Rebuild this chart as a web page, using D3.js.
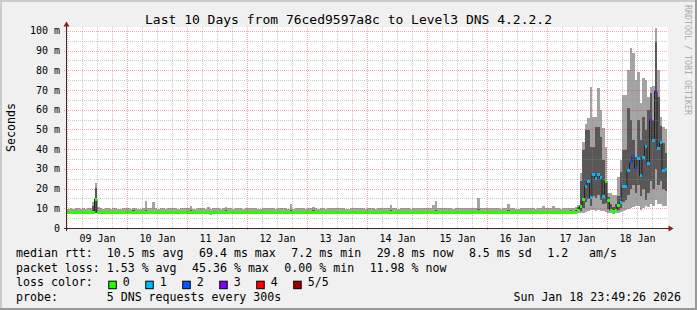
<!DOCTYPE html>
<html>
<head>
<meta charset="utf-8">
<script src="https://cdn.jsdelivr.net/npm/d3@7"></script>
<style>
html, body { margin: 0; padding: 0; background: #f0f0f0; }
svg { display: block; }
text { font-family: "DejaVu Sans Mono", monospace; fill: #000; }
</style>
</head>
<body>
<svg id="chart" width="697" height="310"></svg>
<script>

// hourly samples, 10 days (one row per day), 5 pings sorted: min, 2nd, median, 4th, max (ms)
var pingMin = [
  7.1,7.2,7.2,7.0,7.1,7.2,7.1,7.0,7.1,7.3,7.3,7.5,7.1,7.0,7.0,7.1,7.2,7.2,7.1,7.0,6.9,7.0,7.1,7.1,
  7.0,7.1,7.2,7.1,7.0,6.9,7.1,7.2,7.1,7.0,7.2,7.1,7.1,7.2,7.0,6.9,7.0,7.1,7.2,7.1,7.0,7.1,7.2,7.0,
  7.1,7.2,7.0,6.9,7.1,7.2,7.1,7.0,7.1,6.6,7.1,7.2,7.0,7.1,7.0,7.2,7.1,7.0,6.9,7.1,7.2,7.1,7.0,7.1,
  7.0,7.1,7.2,7.1,6.9,7.0,7.1,7.2,7.1,7.0,7.1,7.0,7.1,7.2,7.2,7.1,7.0,7.2,6.9,6.9,7.0,7.1,7.1,7.0,
  7.1,7.2,7.2,7.1,7.0,7.1,7.0,6.9,7.1,7.2,7.1,7.0,7.1,7.1,7.2,7.0,6.9,7.0,7.1,7.2,7.1,7.0,7.1,7.0,
  7.0,7.1,7.2,7.0,7.1,7.0,7.1,7.2,7.1,7.2,7.1,7.0,7.0,7.1,7.2,7.1,7.0,7.0,7.1,7.1,7.2,7.1,7.0,7.1,
  7.1,7.0,7.1,7.2,7.1,7.0,7.1,7.2,7.1,7.0,6.9,7.0,7.1,7.2,7.1,7.0,7.1,7.1,7.2,7.0,7.2,7.1,7.0,7.1,
  7.0,7.1,7.2,7.1,7.0,7.0,7.1,7.2,7.2,7.1,7.0,6.9,7.0,7.1,7.2,7.1,7.0,7.1,7.1,7.0,7.1,7.2,7.1,7.0,
  7.1,7.0,7.1,7.2,7.1,7.0,7.1,7.2,7.2,7.3,7.2,7.3,7.5,7.6,7.8,8.2,8.5,9.0,9.2,8.8,9.0,8.8,8.5,8.2,
  7.8,7.5,7.2,7.4,7.8,8.0,8.5,9.0,9.5,10.0,10.5,11.0,11.0,9.1,10.0,11.0,10.5,12.0,11.0,14.0,12.0,12.0,11.0,11.0
]
var pingLo = [
  7.5,7.5,7.6,7.4,7.5,7.6,7.5,7.4,7.5,7.7,7.6,7.6,7.5,7.4,7.4,7.5,7.6,7.6,7.5,7.4,7.3,7.4,7.5,7.5,
  7.4,7.5,7.6,7.5,7.4,7.3,7.5,7.6,7.5,7.4,7.6,7.5,7.5,7.6,7.4,7.3,7.4,7.5,7.6,7.5,7.4,7.5,7.6,7.4,
  7.5,7.6,7.4,7.3,7.5,7.6,7.5,7.4,7.5,6.9,7.5,7.6,7.4,7.5,7.4,7.6,7.5,7.4,7.3,7.5,7.6,7.5,7.4,7.5,
  7.4,7.5,7.6,7.5,7.3,7.4,7.5,7.6,7.5,7.4,7.5,7.4,7.5,7.6,7.6,7.5,7.4,7.6,7.3,7.3,7.4,7.5,7.5,7.4,
  7.5,7.6,7.6,7.5,7.4,7.5,7.4,7.3,7.5,7.6,7.5,7.4,7.5,7.5,7.6,7.4,7.3,7.4,7.5,7.6,7.5,7.4,7.5,7.4,
  7.4,7.5,7.6,7.4,7.5,7.4,7.5,7.6,7.5,7.6,7.5,7.4,7.4,7.5,7.6,7.5,7.4,7.4,7.5,7.5,7.6,7.5,7.4,7.5,
  7.5,7.4,7.5,7.6,7.5,7.4,7.5,7.6,7.5,7.4,7.3,7.4,7.5,7.6,7.5,7.4,7.5,7.5,7.6,7.4,7.6,7.5,7.4,7.5,
  7.4,7.5,7.6,7.5,7.4,7.4,7.5,7.6,7.6,7.5,7.4,7.3,7.4,7.5,7.6,7.5,7.4,7.5,7.5,7.4,7.5,7.6,7.5,7.4,
  7.5,7.4,7.5,7.6,7.5,7.4,7.5,7.6,7.6,7.7,7.6,7.7,8.2,8.4,10.0,13.0,14.5,11.0,16.0,15.0,17.0,14.0,12.0,12.5,
  9.5,8.4,7.8,8.1,9.2,10.0,13.0,14.0,17.0,20.0,22.0,17.7,22.0,16.0,20.0,14.2,18.0,24.0,20.0,30.0,22.0,24.0,20.0,19.0
]
var pingMed = [
  7.9,7.9,8.0,7.8,7.9,8.0,7.9,7.8,7.9,8.2,8.0,14.7,7.9,7.8,7.8,7.9,8.0,8.0,7.9,7.8,7.7,7.8,7.9,7.9,
  7.8,7.9,8.1,7.9,7.8,7.7,7.9,8.0,7.9,7.8,8.0,7.9,7.9,8.1,7.8,7.7,7.8,7.9,8.0,7.9,7.8,7.9,8.0,7.8,
  7.9,8.0,7.8,7.7,7.9,8.0,7.9,7.8,7.9,7.2,7.9,8.0,7.8,7.9,7.8,8.1,7.9,7.8,7.7,7.9,8.0,7.9,7.8,7.9,
  7.8,7.9,8.0,7.9,7.7,7.8,7.9,8.0,7.9,7.8,7.9,7.8,7.9,8.0,8.1,7.9,7.8,8.0,7.7,7.7,7.8,7.9,7.9,7.8,
  7.9,8.0,8.1,7.9,7.8,7.9,7.8,7.7,7.9,8.0,7.9,7.8,7.9,7.9,8.0,7.8,7.7,7.8,7.9,8.0,7.9,7.8,7.9,7.8,
  7.8,7.9,8.0,7.8,7.9,7.8,7.9,8.0,7.9,8.1,7.9,7.8,7.8,7.9,8.0,7.9,7.8,7.8,7.9,7.9,8.0,7.9,7.8,7.9,
  7.9,7.8,7.9,8.1,7.9,7.8,7.9,8.0,7.9,7.8,7.7,7.8,7.9,8.0,7.9,7.8,7.9,7.9,8.0,7.8,8.2,7.9,7.8,7.9,
  7.8,7.9,8.0,7.9,7.8,7.8,7.9,8.0,8.1,7.9,7.8,7.7,7.8,7.9,8.0,7.9,7.8,7.9,7.9,7.8,7.9,8.0,7.9,7.8,
  7.9,7.8,7.9,8.0,7.9,7.8,7.9,8.0,8.0,8.1,8.0,8.1,9.1,11.0,14.7,21.3,23.8,15.4,26.9,24.9,27.4,25.5,15.9,23.5,
  13.9,9.1,8.3,8.8,11.3,12.9,21.0,21.0,29.4,33.1,36.5,30.1,35.2,26.5,35.7,41.6,32.5,54.8,44.3,69.4,40.3,43.3,29.4,29.8
]
var pingHi = [
  8.4,8.5,8.6,8.3,8.5,8.5,8.4,8.3,8.5,8.8,11.3,20.1,8.6,8.3,8.4,8.5,8.6,8.5,8.4,8.4,8.2,8.3,8.5,8.4,
  8.3,8.5,8.9,8.4,8.3,8.2,8.5,9.0,8.4,8.3,8.8,8.5,8.4,8.7,8.3,8.2,8.4,8.5,8.6,8.4,8.3,8.5,8.6,8.3,
  8.5,8.9,8.3,8.2,8.4,8.6,8.5,8.3,8.7,8.0,8.4,8.6,8.3,8.5,8.3,8.9,8.4,8.3,8.2,8.5,8.6,8.5,8.3,8.4,
  8.3,8.5,8.6,8.4,8.2,8.3,8.5,8.6,8.4,8.3,8.5,8.3,8.4,8.6,8.7,8.5,8.3,9.2,8.2,8.3,8.4,8.5,8.5,8.3,
  8.5,8.6,8.9,8.4,8.3,8.5,8.4,8.2,8.5,8.6,8.5,8.3,8.4,8.5,8.6,8.3,8.2,8.4,8.5,8.6,8.5,8.3,8.5,8.3,
  8.3,8.5,8.6,8.3,8.5,8.4,8.5,8.6,8.5,9.0,8.5,8.3,8.3,8.5,8.6,8.5,8.3,8.3,8.5,8.4,8.6,8.5,8.3,8.5,
  8.5,8.3,8.8,9.2,8.5,8.3,8.5,8.6,8.5,8.3,8.2,8.4,8.5,8.6,8.5,8.3,8.5,8.5,8.6,8.3,9.4,8.5,8.3,8.5,
  8.3,8.5,8.6,8.5,8.3,8.3,8.5,8.6,9.0,8.5,8.3,8.2,8.3,8.5,8.6,8.5,8.3,8.5,8.5,8.3,8.5,8.6,8.8,8.3,
  8.5,8.3,8.7,8.6,8.5,8.3,8.5,8.6,8.6,8.9,8.5,9.0,10.6,24.0,39.6,49.7,49.7,41.3,41.3,51.4,51.4,46.3,34.5,24.4,
  15.9,12.0,10.5,12.0,16.0,28.6,39.6,39.6,61.0,54.8,44.7,36.2,54.8,44.7,56.5,49.7,60.0,68.4,55.0,94.6,66.7,52.0,43.0,38.0
]
var pingMax = [
  9.8,10.1,9.6,10.0,10.2,9.5,9.9,9.7,10.0,10.4,13.0,22.7,10.6,10.2,9.8,10.0,10.1,9.7,9.9,10.3,9.8,9.6,10.0,10.2,
  10.0,9.7,10.3,10.1,9.8,9.6,9.9,13.9,10.2,10.0,13.4,10.1,9.8,10.2,9.9,9.7,10.0,10.1,10.3,9.9,9.8,10.0,10.2,9.9,
  10.1,11.3,9.8,9.7,10.0,10.2,9.9,9.8,10.8,9.6,10.0,10.2,9.9,9.8,10.0,10.8,10.1,9.9,9.7,10.0,10.2,10.1,9.8,10.0,
  9.9,10.1,10.3,10.0,9.7,9.8,10.1,10.4,10.0,9.9,10.1,9.8,10.0,10.2,10.3,9.9,9.8,12.2,9.7,9.9,10.0,10.2,10.1,9.8,
  10.1,10.2,10.8,10.0,9.8,10.1,9.9,9.7,10.0,10.2,10.1,9.9,10.0,10.1,10.3,9.8,9.7,9.9,10.2,10.4,10.0,9.9,10.1,9.8,
  9.9,10.0,10.2,9.8,10.1,9.9,10.0,10.2,10.1,11.7,10.0,9.9,9.8,10.1,10.3,10.0,9.9,9.8,10.1,10.0,10.3,10.1,9.9,10.0,
  10.1,9.9,11.6,13.9,10.2,9.9,10.0,10.3,10.1,9.9,9.8,10.0,10.1,10.4,10.0,9.9,10.1,10.2,10.4,9.9,15.1,10.2,10.0,10.1,
  9.9,10.0,10.2,10.1,9.9,9.8,10.1,10.3,12.2,10.0,9.9,9.7,9.8,10.0,10.2,10.1,9.9,10.1,10.2,9.8,10.0,10.3,11.3,9.9,
  10.1,9.9,11.0,10.2,10.0,9.8,10.0,10.2,10.2,10.3,10.0,10.6,11.7,28.0,43.8,53.0,56.0,71.7,56.5,56.5,71.0,60.0,50.8,41.0,
  17.7,17.7,17.0,17.0,26.0,34.5,67.5,67.5,80.0,91.2,88.7,75.0,79.4,63.5,76.1,75.0,66.7,71.7,72.0,101.4,80.0,56.5,51.4,50.0
]
// lost pings out of 5 for each hour
var pingLoss = [
  0,0,0,0,0,0,0,0,0,0,0,0,0,0,0,0,0,0,0,0,0,0,0,0,
  0,0,0,0,0,0,0,0,0,0,0,0,0,0,0,0,0,0,0,0,0,0,0,0,
  0,0,0,0,0,0,0,0,0,0,0,0,0,0,0,0,0,0,0,0,0,0,0,0,
  0,0,0,0,0,0,0,0,0,0,0,0,0,0,0,0,0,0,0,0,0,0,0,0,
  0,0,0,0,0,0,0,0,0,0,0,0,0,0,0,0,0,0,0,0,0,0,0,0,
  0,0,0,0,0,0,0,0,0,0,0,0,0,0,0,0,0,0,0,0,0,0,0,0,
  0,0,0,0,0,0,0,0,0,0,0,0,0,0,0,0,0,0,0,0,0,0,0,0,
  0,0,0,0,0,0,0,0,0,0,0,0,0,0,0,0,0,0,0,0,0,0,0,0,
  0,0,0,0,0,0,0,0,0,0,0,0,0,0,0,1,1,1,1,1,1,1,1,0,
  0,0,0,0,0,1,1,1,1,2,2,2,1,1,1,1,1,3,1,3,1,1,1,1
]

var yTicks = [0, 10, 20, 30, 40, 50, 60, 70, 80, 90, 100]
var lossLabels = ['0', '1', '2', '3', '4', '5/5']
var lossColors = ['#26ff00', '#00b8ff', '#0059ff', '#7e00ff', '#ff0000', '#a10000']

var titleText = 'Last 10 Days from 76ced9597a8c to Level3 DNS 4.2.2.2'
var rttLegend = ['median rtt:  10.5 ms avg', '69.4 ms max', '7.2 ms min', '29.8 ms now', '8.5 ms sd', '1.2   am/s']
var lossLegend = ['packet loss: 1.53 % avg', '45.36 % max', '0.00 % min', '11.98 % now']
var probeText = 'probe:       5 DNS requests every 300s'
var stampText = 'Sun Jan 18 23:49:26 2026'

var W = 697, H = 310
var x0 = 67, x1 = 667, yTop = 27, yBot = 228
var tEnd = new Date(Date.UTC(2026, 0, 18, 23, 49, 26))
var tStart = new Date(tEnd.getTime() - 10 * 86400000)
var step = 3600000

var svg = d3.select('#chart')

// frame
svg.append('rect').attr('width', W).attr('height', H).attr('fill', '#f0f0f0')
svg.append('rect').attr('x', 0).attr('y', 0).attr('width', W).attr('height', 2).attr('fill', '#cbcbcb')
svg.append('rect').attr('x', 0).attr('y', 0).attr('width', 2).attr('height', H).attr('fill', '#cbcbcb')
svg.append('rect').attr('x', 0).attr('y', H - 2).attr('width', W).attr('height', 2).attr('fill', '#999')
svg.append('rect').attr('x', W - 2).attr('y', 0).attr('width', 2).attr('height', H).attr('fill', '#999')

var x = d3.scaleTime().domain([tStart, tEnd]).range([x0, x1])
var y = d3.scaleLinear().domain([0, 102]).range([yBot, yTop])

svg.append('rect')
    .attr('x', x0).attr('y', yTop)
    .attr('width', x1 - x0 + 1).attr('height', yBot - yTop)
    .attr('fill', '#fff')

var pts = pingMed.map(function(m, i){
    return {
        t0: new Date(tStart.getTime() + i * step),
        t1: new Date(tStart.getTime() + (i + 1) * step),
        min: pingMin[i], lo: pingLo[i], med: m, hi: pingHi[i], max: pingMax[i], loss: pingLoss[i]
    }
})

var g_smoke = svg.append('g').attr('shape-rendering', 'crispEdges')

// outer smoke: min..max
g_smoke.selectAll('.smokeOut').data(pts).enter().append('rect')
    .classed('smokeOut', true)
    .attr('x', function(d){ return x(d.t0) })
    .attr('width', function(d){ return x(d.t1) - x(d.t0) })
    .attr('y', function(d){ return y(d.max) })
    .attr('height', function(d){ return y(d.min) - y(d.max) })
    .attr('fill', '#a4a4a4')

// inner smoke: 2nd..4th
g_smoke.selectAll('.smokeIn').data(pts).enter().append('rect')
    .classed('smokeIn', true)
    .attr('x', function(d){ return x(d.t0) })
    .attr('width', function(d){ return x(d.t1) - x(d.t0) })
    .attr('y', function(d){ return y(d.hi) })
    .attr('height', function(d){ return y(d.lo) - y(d.hi) })
    .attr('fill', '#585858')

// median line
var medLine = d3.line()
    .x(function(d){ return x(d.t) })
    .y(function(d){ return y(d.v) })
    .curve(d3.curveStepAfter)
var medPts = pts.map(function(d){ return {t: d.t0, v: d.med} })
medPts.push({t: pts[pts.length - 1].t1, v: pts[pts.length - 1].med})
svg.append('path')
    .attr('d', medLine(medPts))
    .attr('fill', 'none')
    .attr('stroke', '#202020')
    .attr('stroke-width', 1)

// median blocks coloured by loss, on top of the line
var g_med = svg.append('g').attr('shape-rendering', 'crispEdges')
g_med.selectAll('.medBlock').data(pts).enter().append('rect')
    .classed('medBlock', true)
    .attr('x', function(d){ return x(d.t0) })
    .attr('width', function(d){ return x(d.t1) - x(d.t0) })
    .attr('y', function(d){ return y(d.med) - 1.5 })
    .attr('height', 3)
    .attr('fill', function(d){ return lossColors[d.loss] })

// grid, drawn over the data like rrdtool does
var g_grid = svg.append('g').attr('stroke-dasharray', '1,1').attr('stroke-width', 1)
var minorColor = 'rgba(140,140,140,0.45)', majorColor = 'rgba(235,30,30,0.38)'

d3.utcHour.every(6).range(tStart, tEnd).forEach(function(t){
    var major = t.getUTCHours() === 0
    var px = Math.round(x(t)) + 0.5
    g_grid.append('line')
        .attr('x1', px).attr('x2', px)
        .attr('y1', yTop).attr('y2', yBot + (major ? 2 : 1))
        .attr('stroke', major ? majorColor : minorColor)
})
d3.range(5, 101, 5).forEach(function(v){
    var major = v % 10 === 0
    var py = Math.round(y(v)) + 0.5
    g_grid.append('line')
        .attr('x1', x0 - (major ? 3 : 1)).attr('x2', x1 + 1)
        .attr('y1', py).attr('y2', py)
        .attr('stroke', major ? majorColor : minorColor)
})

// axes
var axisColor = '#3a2c2c', arrowColor = '#8a1c1c'
svg.append('line').attr('x1', x0 - 0.5).attr('x2', x0 - 0.5).attr('y1', yBot + 3).attr('y2', yTop - 1)
    .attr('stroke', axisColor)
svg.append('line').attr('x1', x0 - 3).attr('x2', x1 + 2).attr('y1', yBot + 0.5).attr('y2', yBot + 0.5)
    .attr('stroke', axisColor)
svg.append('path').attr('d', 'M' + (x0 - 0.5) + ',21.5L' + (x0 - 3.5) + ',26.5L' + (x0 + 2.5) + ',26.5Z')
    .attr('fill', arrowColor)
svg.append('path').attr('d', 'M' + (x1 + 6.5) + ',' + (yBot + 0.5) + 'L' + (x1 + 1.5) + ',' + (yBot - 2.5) + 'L' + (x1 + 1.5) + ',' + (yBot + 3.5) + 'Z')
    .attr('fill', arrowColor)

// y labels
svg.append('g').selectAll('text').data(yTicks).enter().append('text')
    .attr('x', 60)
    .attr('y', function(d){ return y(d) + 3.5 })
    .attr('text-anchor', 'end')
    .style('font-size', '10px')
    .text(function(d){ return d === 0 ? '0' : d + ' m' })

// day labels at noon
var fmt = d3.utcFormat('%d %b')
svg.append('g').selectAll('text')
    .data(d3.utcDay.range(tStart, tEnd).filter(function(d){ return +d + 43200000 < +tEnd }))
    .enter().append('text')
    .attr('x', function(d){ return x(new Date(+d + 43200000)) })
    .attr('y', 241.5)
    .attr('text-anchor', 'middle')
    .style('font-size', '10px')
    .text(fmt)

// title and side texts
svg.append('text').attr('x', W / 2).attr('y', 23.5).attr('text-anchor', 'middle')
    .style('font-size', '13px').text(titleText)
svg.append('text').attr('transform', 'translate(14.5,' + ((yTop + yBot) / 2) + ') rotate(-90)')
    .attr('text-anchor', 'middle').style('font-size', '11.6px').text('Seconds')
svg.append('text').attr('transform', 'translate(685,5) rotate(90)')
    .style('font-size', '8.3px').style('fill', '#aaaaaa').text('RRDTOOL / TOBI OETIKER')

// legend, placed item after item like rrdtool
var legGap = 15.5, legSize = '11.6px'
function legendText(tx, ty, s){
    return svg.append('text').attr('x', tx).attr('y', ty)
        .attr('xml:space', 'preserve').style('white-space', 'pre')
        .style('font-size', legSize).text(s)
}
function placeRow(ty, items){
    var tx = 16
    items.forEach(function(s){
        var t = legendText(tx, ty, s)
        tx += t.node().getComputedTextLength() + legGap
    })
}
placeRow(257.3, rttLegend)
placeRow(271.7, lossLegend)

var lx = 16
lx += legendText(lx, 286.1, 'loss color:').node().getComputedTextLength() + legGap
lossLabels.forEach(function(s, i){
    svg.append('rect').attr('x', lx + 0.5).attr('y', 281.2).attr('width', 7.5).attr('height', 7.5)
        .attr('fill', lossColors[i]).attr('stroke', '#000').attr('stroke-width', 1)
    var t = legendText(lx + 14.5, 286.1, s)
    lx += 14.5 + t.node().getComputedTextLength() + legGap
})

legendText(16, 300.5, probeText)
svg.append('text').attr('x', 681).attr('y', 300.5).attr('text-anchor', 'end')
    .style('font-size', legSize).text(stampText)

</script>
</body>
</html>
